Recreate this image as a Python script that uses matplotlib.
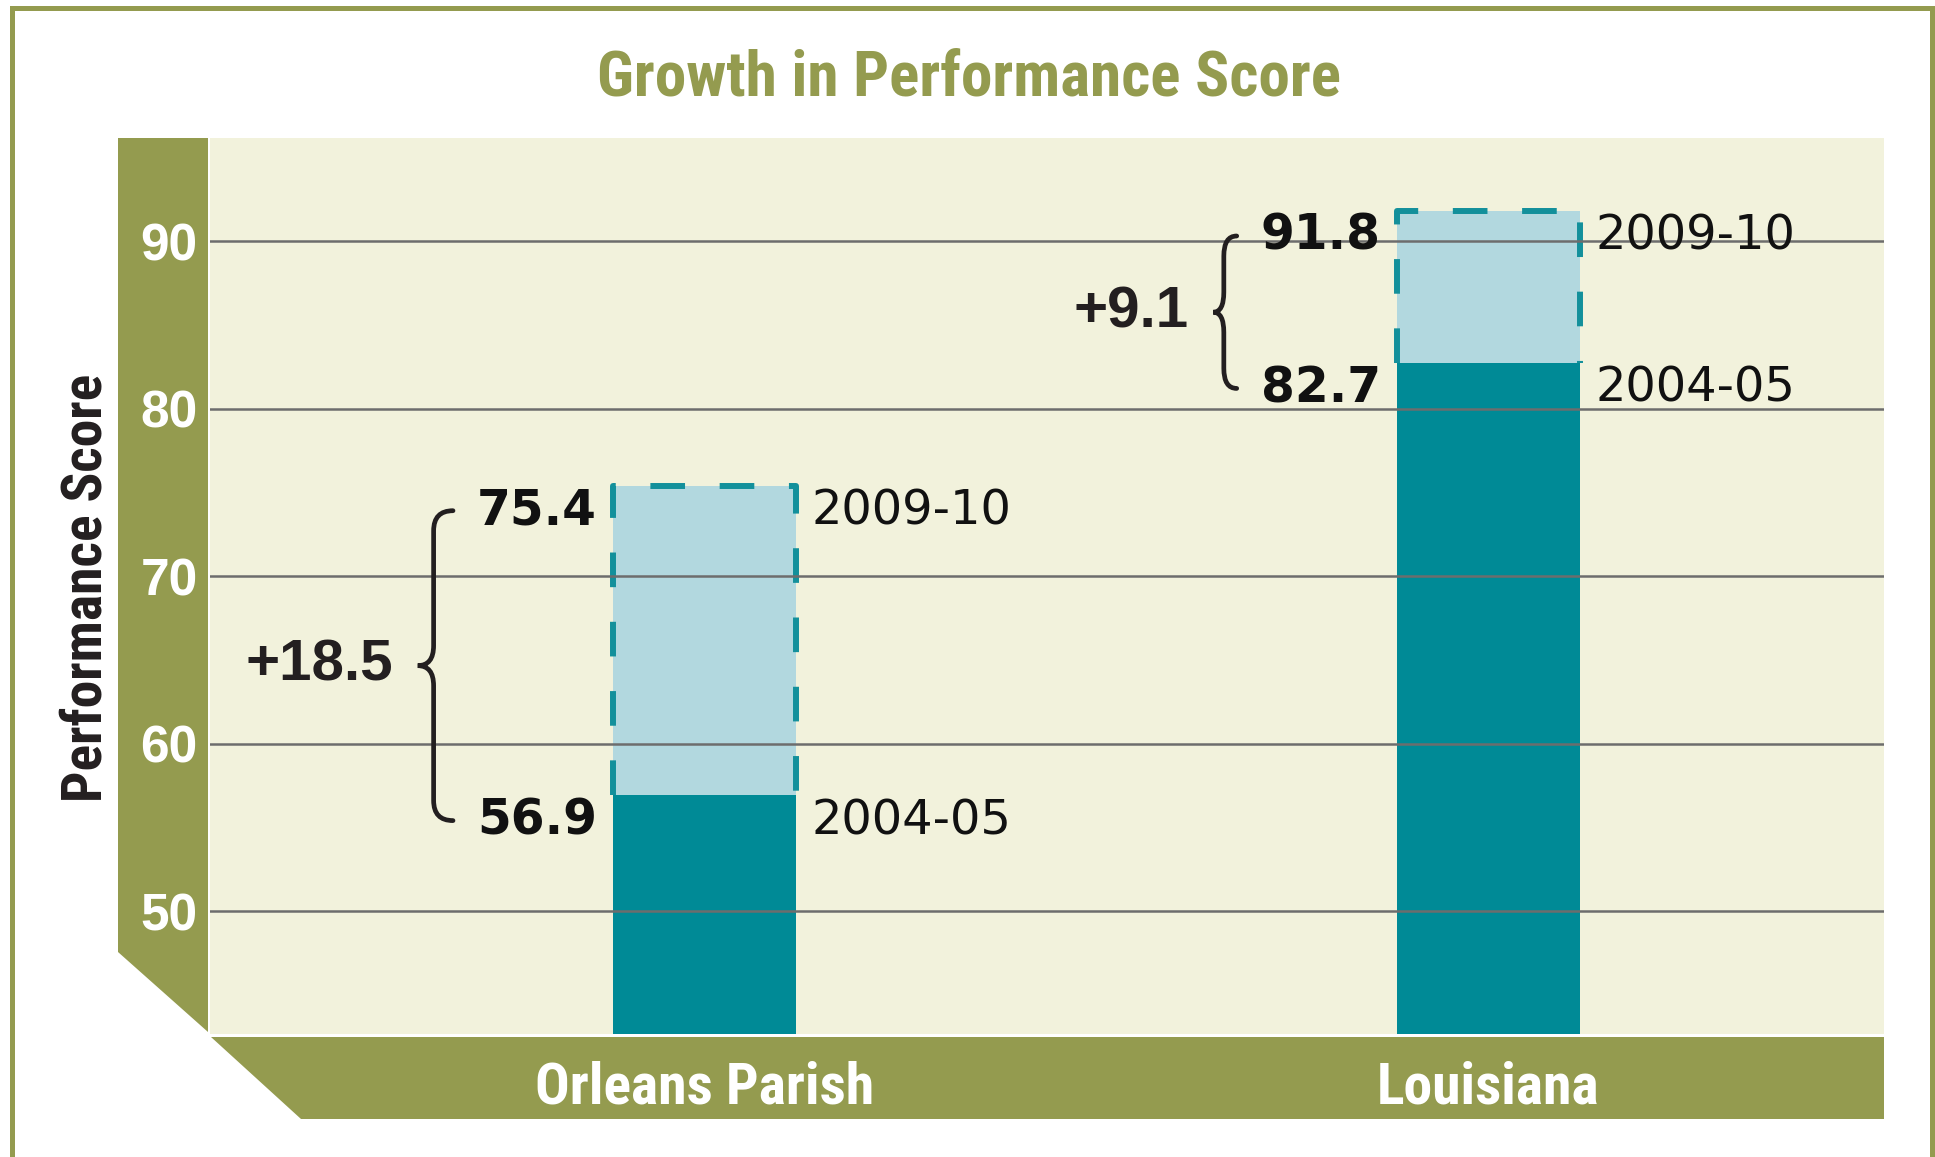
import matplotlib
matplotlib.use("Agg")
import matplotlib.pyplot as plt
from matplotlib.patches import Polygon, PathPatch
from matplotlib.path import Path

# data
places = ["Orleans Parish", "Louisiana"]
score_0405 = [56.9, 82.7]
score_0910 = [75.4, 91.8]
year_old = "2004-05"
year_new = "2009-10"
yticks = [50, 60, 70, 80, 90]

OLIVE = "#949b4f"
BG = "#f2f2dc"
DARK = "#008a96"
LIGHT = "#b2d8df"
DASH = "#13909b"
GRID = "#6d6d6d"
COND = ["Roboto Condensed", "DejaVu Sans"]
SANS = ["Liberation Sans", "DejaVu Sans"]

W, H = 1935, 1157
fig = plt.figure(figsize=(W / 100, H / 100), dpi=100)

# frame / bands in pixel coords
bg = fig.add_axes([0, 0, 1, 1])
bg.set_xlim(0, W)
bg.set_ylim(H, 0)
bg.axis("off")
bg.plot([12, 12, 1932, 1932], [H, 7.5, 7.5, H], color=OLIVE, lw=3.6, solid_joinstyle="miter")
bg.add_patch(Polygon([(118, 138), (208, 138), (208, 1032), (118, 952)], closed=True,
                     facecolor=OLIVE, edgecolor="none"))
bg.add_patch(Polygon([(211, 1037), (1884, 1037), (1884, 1119), (301, 1119)], closed=True,
                     facecolor=OLIVE, edgecolor="none"))

fig.text(969 / W, 1 - 78 / H, "Growth in Performance Score", color=OLIVE,
         fontsize=45.5, fontweight="bold", ha="center", va="center", family=COND)
fig.text(87 / W, 1 - 588 / H, "Performance Score", rotation=90, color="#231f20",
         fontsize=40, fontweight="bold", ha="center", va="center", family=COND)

ax = fig.add_axes([210 / W, 1 - 1034 / H, (1884 - 210) / W, (1034 - 138) / H])
ax.set_facecolor(BG)
for s in ax.spines.values():
    s.set_visible(False)
ax.set_xlim(-0.631, 1.505)
ax.set_ylim(42.66, 96.15)

xs = list(range(len(places)))
bw = 0.2335
ax.bar(xs, [b - a for a, b in zip(score_0405, score_0910)], bottom=score_0405,
       width=bw, color=LIGHT, zorder=1)
ax.bar(xs, [a - 42.66 for a in score_0405], bottom=42.66, width=bw, color=DARK, zorder=1.2)

ax.set_yticks(yticks)
ax.set_axisbelow(False)
ax.yaxis.grid(True, color=GRID, lw=1.8)
ax.tick_params(axis="y", length=0, pad=9, labelcolor="white", labelsize=37)
for t in ax.get_yticklabels():
    t.set_fontweight("bold")
    t.set_family(SANS)

ax.set_xticks(xs)
ax.set_xticklabels(places)
ax.tick_params(axis="x", length=0, pad=19, labelcolor="white", labelsize=41.5)
for t in ax.get_xticklabels():
    t.set_fontweight("bold")
    t.set_family(COND)

drop = 1.5
for x, a, b in zip(xs, score_0405, score_0910):
    xl, xr = x - bw / 2, x + bw / 2
    ln, = ax.plot([xl, xl, xr, xr], [a, b, b, a], color=DASH, lw=4.3, zorder=2,
                  solid_capstyle="butt")
    ln.set_dashes([5.8, 5.8])
    ln.set_dash_capstyle("butt")
    for v, yr in ((b, year_new), (a, year_old)):
        ax.annotate(f"{v:.1f}", (xl, v - drop), xytext=(-11.5, 0), textcoords="offset points",
                    ha="right", va="center", fontsize=35, fontweight="bold", color="#111111",
                    family="DejaVu Sans", zorder=4)
        ax.annotate(yr, (xr, v - drop), xytext=(11.5, 0), textcoords="offset points",
                    ha="left", va="center", fontsize=34.5, color="#111111",
                    family="DejaVu Sans", zorder=4)
    # brace
    y1, y0 = b - drop, a - drop
    ym = (y0 + y1) / 2
    span_px = (y1 - y0) * 16.75
    wpx = 12 + span_px * 0.075
    xt = xl - 160 / 783.6
    xsp = xt - wpx * 0.55 / 783.6
    xp = xt - wpx / 783.6
    r = 1.2
    verts = [(xt, y1), (xsp, y1), (xsp, y1 - r),
             (xsp, ym + r), (xsp, ym), (xp, ym),
             (xsp, ym), (xsp, ym - r),
             (xsp, y0 + r), (xsp, y0), (xt, y0)]
    codes = [Path.MOVETO, Path.CURVE3, Path.CURVE3,
             Path.LINETO, Path.CURVE3, Path.CURVE3,
             Path.CURVE3, Path.CURVE3,
             Path.LINETO, Path.CURVE3, Path.CURVE3]
    ax.add_patch(PathPatch(Path(verts, codes), fill=False, edgecolor="#231f20", lw=3.4,
                           capstyle="round", zorder=4))
    ax.annotate(f"+{b - a:.1f}", (xp, ym), xytext=(-18, 0), textcoords="offset points",
                ha="right", va="center", fontsize=42, fontweight="bold", color="#231f20",
                family=SANS, zorder=4)

fig.savefig("out.png", dpi=100, facecolor="white")
